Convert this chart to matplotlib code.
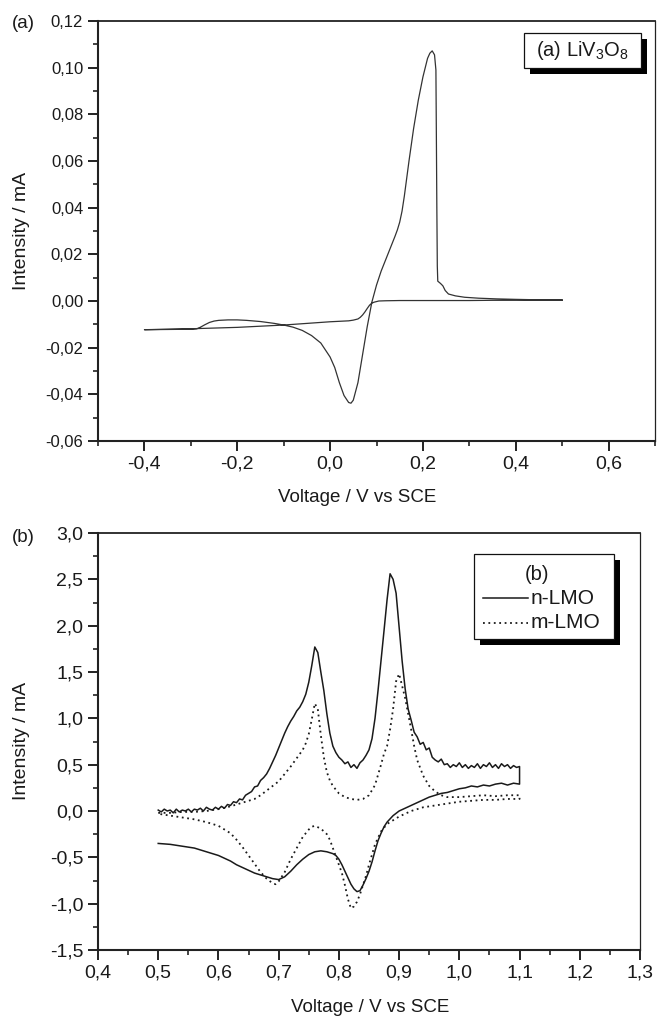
import matplotlib
matplotlib.use("Agg")
import matplotlib.pyplot as plt
import numpy as np
from matplotlib.patches import Rectangle
from matplotlib.lines import Line2D
from matplotlib.ticker import MultipleLocator, FuncFormatter

plt.rcParams['font.family'] = ['Liberation Sans', 'DejaVu Sans']
plt.rcParams['mathtext.fontset'] = 'custom'
plt.rcParams['mathtext.rm'] = 'Liberation Sans'
plt.rcParams['mathtext.it'] = 'Liberation Sans:italic'

# ---------------- Panel (a): LiV3O8 ----------------
a_x = [0.50, 0.45, 0.40, 0.35, 0.30, 0.25, 0.20, 0.15, 0.12, 0.105, 0.095, 0.09, 0.085,
       0.08, 0.075, 0.07, 0.065, 0.06, 0.05, 0.04, 0.02, 0.00, -0.05, -0.10, -0.15,
       -0.20, -0.25, -0.30, -0.35, -0.40,
       -0.35, -0.30, -0.287, -0.28, -0.27, -0.26, -0.25, -0.24, -0.22, -0.20, -0.18,
       -0.15, -0.12, -0.10, -0.08, -0.06, -0.04, -0.02, 0.00, 0.01, 0.02, 0.03, 0.04,
       0.045, 0.05, 0.06, 0.07, 0.08, 0.09, 0.10, 0.11, 0.12, 0.13, 0.14, 0.145, 0.15,
       0.155, 0.16, 0.17, 0.18, 0.19, 0.20, 0.21, 0.215, 0.22, 0.225, 0.228, 0.229, 0.230,
       0.231, 0.232, 0.238, 0.243, 0.248, 0.255, 0.27, 0.29, 0.32, 0.36, 0.40, 0.45, 0.50]
a_y = [0.0004, 0.0004, 0.0003, 0.0003, 0.0002, 0.0002, 0.0002, 0.0002, 0.0001, 0.0000,
       -0.0005, -0.0009, -0.0018, -0.0032, -0.0047, -0.0060, -0.0070, -0.0077, -0.0082,
       -0.0085, -0.0087, -0.0089, -0.0096, -0.0103, -0.0108, -0.0113, -0.0116, -0.0119,
       -0.0121, -0.0123,
       -0.0122, -0.0121, -0.0119, -0.0113, -0.0102, -0.0092, -0.0086, -0.0083, -0.0081,
       -0.0081, -0.0083, -0.0088, -0.0096, -0.0103, -0.0112, -0.0126, -0.0148, -0.0180,
       -0.0240, -0.0285, -0.0350, -0.0405, -0.0435, -0.0438, -0.0425, -0.0350, -0.0230,
       -0.0110, -0.0005, 0.0068, 0.0128, 0.0178, 0.0228, 0.0278, 0.0305, 0.0338, 0.0385,
       0.0450, 0.0600, 0.0740, 0.0860, 0.0960, 0.1040, 0.1062, 0.1072, 0.1055, 0.0990,
       0.0700, 0.0400, 0.0150, 0.0085, 0.0075, 0.0065, 0.0045, 0.0030, 0.0022, 0.0016,
       0.0012, 0.0009, 0.0007, 0.0005, 0.0004]

# ---------------- Panel (b): n-LMO / m-LMO ----------------
n_x = [0.500, 0.505, 0.510, 0.515, 0.520, 0.525, 0.530, 0.535, 0.540, 0.545, 0.550, 0.555,
       0.560, 0.565, 0.570, 0.575, 0.580, 0.585, 0.590, 0.595, 0.600, 0.605, 0.610, 0.615,
       0.620, 0.625, 0.630, 0.635, 0.640, 0.645, 0.650, 0.655, 0.660, 0.665, 0.670, 0.675,
       0.680, 0.685, 0.690, 0.695, 0.700, 0.705, 0.710, 0.715, 0.720, 0.725, 0.730, 0.735,
       0.740, 0.745, 0.750, 0.755, 0.760, 0.765, 0.770, 0.775, 0.780, 0.785, 0.790, 0.795,
       0.800, 0.805, 0.810, 0.815, 0.820, 0.825, 0.830, 0.835, 0.840, 0.845, 0.850, 0.855,
       0.860, 0.865, 0.870, 0.875, 0.880, 0.885, 0.890, 0.895, 0.900, 0.905, 0.910, 0.915,
       0.920, 0.925, 0.930, 0.935, 0.940, 0.945, 0.950, 0.955, 0.960, 0.965, 0.970, 0.975,
       0.980, 0.985, 0.990, 0.995, 1.000, 1.005, 1.010, 1.015, 1.020, 1.025, 1.030, 1.035,
       1.040, 1.045, 1.050, 1.055, 1.060, 1.065, 1.070, 1.075, 1.080, 1.085, 1.090, 1.095,
       1.100,
       1.100, 1.090, 1.080, 1.070, 1.060, 1.050, 1.040, 1.030, 1.020, 1.010, 1.000, 0.990,
       0.980, 0.970, 0.960, 0.950, 0.940, 0.930, 0.920, 0.910, 0.900, 0.890, 0.880, 0.875,
       0.870, 0.865, 0.860, 0.855, 0.850, 0.845, 0.840, 0.835, 0.830, 0.825, 0.820, 0.815,
       0.810, 0.805, 0.800, 0.795, 0.790, 0.780, 0.770, 0.760, 0.750, 0.740, 0.730, 0.720,
       0.710, 0.700, 0.690, 0.680, 0.670, 0.660, 0.650, 0.640, 0.630, 0.620, 0.610, 0.600,
       0.580, 0.560, 0.540, 0.520, 0.500]
n_y = [0.01, -0.01, 0.02, 0.00, 0.01, -0.02, 0.02, -0.01, 0.01, 0.00, 0.02, -0.01,
       0.02, 0.01, 0.03, 0.00, 0.04, 0.02, 0.01, 0.04, 0.02, 0.05, 0.03, 0.07,
       0.06, 0.10, 0.09, 0.13, 0.12, 0.17, 0.19, 0.21, 0.26, 0.27, 0.33, 0.36,
       0.40, 0.46, 0.53, 0.60, 0.68, 0.76, 0.84, 0.91, 0.97, 1.02, 1.08, 1.12,
       1.18, 1.26, 1.39, 1.57, 1.77, 1.71, 1.50, 1.30, 1.05, 0.84, 0.70, 0.63,
       0.58, 0.55, 0.51, 0.53, 0.47, 0.50, 0.46, 0.52, 0.55, 0.60, 0.66, 0.78,
       1.00, 1.30, 1.62, 1.95, 2.28, 2.56, 2.50, 2.35, 1.98, 1.62, 1.32, 1.10,
       0.98, 0.85, 0.80, 0.72, 0.74, 0.66, 0.68, 0.58, 0.55, 0.53, 0.56, 0.50,
       0.51, 0.47, 0.50, 0.48, 0.52, 0.47, 0.50, 0.46, 0.49, 0.47, 0.51, 0.46,
       0.50, 0.48, 0.52, 0.47, 0.50, 0.46, 0.51, 0.48, 0.50, 0.46, 0.49, 0.47,
       0.48,
       0.29, 0.30, 0.28, 0.30, 0.29, 0.27, 0.28, 0.26, 0.27, 0.25, 0.24, 0.22,
       0.20, 0.19, 0.17, 0.15, 0.12, 0.09, 0.06, 0.03, 0.00, -0.05, -0.12, -0.17,
       -0.24, -0.32, -0.43, -0.55, -0.65, -0.73, -0.80, -0.86, -0.87, -0.84, -0.79, -0.72,
       -0.65, -0.58, -0.52, -0.48, -0.46, -0.44, -0.43, -0.44, -0.47, -0.52, -0.58, -0.65,
       -0.71, -0.74, -0.73, -0.71, -0.69, -0.67, -0.64, -0.61, -0.58, -0.54, -0.51, -0.48,
       -0.44, -0.40, -0.38, -0.36, -0.35]

m_x = [0.50, 0.52, 0.54, 0.56, 0.58, 0.60, 0.62, 0.64, 0.66, 0.67, 0.68, 0.69, 0.70,
       0.71, 0.72, 0.73, 0.74, 0.745, 0.75, 0.755, 0.76, 0.765, 0.77, 0.775, 0.78, 0.785,
       0.79, 0.80, 0.81, 0.82, 0.83, 0.84, 0.85, 0.86, 0.87, 0.875, 0.88, 0.885, 0.89,
       0.895, 0.90, 0.905, 0.91, 0.915, 0.92, 0.925, 0.93, 0.94, 0.95, 0.96, 0.97, 0.98,
       1.00, 1.02, 1.04, 1.06, 1.08, 1.10,
       1.10, 1.08, 1.06, 1.04, 1.02, 1.00, 0.98, 0.96, 0.94, 0.92, 0.90, 0.89, 0.88,
       0.87, 0.86, 0.855, 0.85, 0.845, 0.84, 0.835, 0.83, 0.825, 0.82, 0.815, 0.81, 0.805,
       0.80, 0.795, 0.79, 0.785, 0.78, 0.77, 0.76, 0.755, 0.75, 0.74, 0.73, 0.72, 0.71,
       0.70, 0.695, 0.69, 0.68, 0.67, 0.66, 0.65, 0.64, 0.63, 0.62, 0.60, 0.58, 0.56,
       0.54, 0.52, 0.50]
m_y = [-0.02, -0.02, -0.01, -0.01, 0.00, 0.02, 0.05, 0.09, 0.13, 0.17, 0.22, 0.27, 0.32,
       0.40, 0.48, 0.57, 0.66, 0.73, 0.83, 0.99, 1.16, 1.10, 0.82, 0.58, 0.42, 0.33,
       0.27, 0.19, 0.15, 0.13, 0.12, 0.13, 0.17, 0.28, 0.50, 0.62, 0.70, 0.88, 1.10,
       1.40, 1.48, 1.35, 1.22, 1.05, 0.88, 0.70, 0.55, 0.38, 0.27, 0.21, 0.17, 0.15,
       0.15, 0.16, 0.17, 0.16, 0.17, 0.17,
       0.13, 0.13, 0.12, 0.12, 0.11, 0.10, 0.08, 0.06, 0.04, 0.00, -0.06, -0.10, -0.14,
       -0.22, -0.36, -0.47, -0.58, -0.70, -0.80, -0.90, -0.98, -1.03, -1.05, -0.95, -0.80,
       -0.67, -0.58, -0.49, -0.40, -0.31, -0.25, -0.19, -0.16, -0.17, -0.20, -0.28, -0.40,
       -0.52, -0.66, -0.76, -0.79, -0.78, -0.73, -0.66, -0.57, -0.48, -0.39, -0.31, -0.24,
       -0.16, -0.12, -0.09, -0.07, -0.05, -0.03]

W, H = 657, 1017


def P(x, y):
    return (x / W, 1 - y / H)


def comma(dec):
    def f(v, pos):
        s = f"{v:.{dec}f}"
        if float(s) == 0:
            s = f"{0:.{dec}f}"
        return s.replace('.', ',')
    return FuncFormatter(f)


def style_axes(ax, ysize):
    for s in ['left', 'bottom']:
        ax.spines[s].set_linewidth(1.5)
    ax.spines['top'].set_linewidth(1.3)
    ax.spines['right'].set_linewidth(0.9)
    for s in ax.spines.values():
        s.set_color('#222222')
    ax.tick_params(which='major', direction='out', length=7.2, width=1.4,
                   top=False, right=False, pad=3.5, colors='#222222')
    ax.tick_params(which='minor', direction='out', length=3.8, width=1.2,
                   top=False, right=False, colors='#222222')
    ax.tick_params(axis='x', labelsize=14, labelcolor='#1a1a1a')
    ax.tick_params(axis='y', labelsize=ysize, labelcolor='#1a1a1a')


fig = plt.figure(figsize=(W / 100, H / 100), dpi=100)

# ---- top panel
ax1 = fig.add_axes([98 / W, 1 - 441 / H, 557 / W, 420 / H])
ax1.plot(a_x, a_y, color='#333333', lw=0.9)
ax1.set_xlim(-0.5, 0.7)
ax1.set_ylim(-0.06, 0.12)
ax1.xaxis.set_major_locator(MultipleLocator(0.2))
ax1.xaxis.set_minor_locator(MultipleLocator(0.1))
ax1.yaxis.set_major_locator(MultipleLocator(0.02))
ax1.yaxis.set_minor_locator(MultipleLocator(0.01))
ax1.xaxis.set_major_formatter(comma(1))
ax1.yaxis.set_major_formatter(comma(2))
style_axes(ax1, 12)

# ---- bottom panel
ax2 = fig.add_axes([98 / W, 1 - 950 / H, 542 / W, 417 / H])
ax2.plot(n_x, n_y, color='#1a1a1a', lw=1.1)
ax2.plot(m_x, m_y, color='#1a1a1a', lw=1.3, linestyle=(0, (1, 2)))
ax2.set_xlim(0.4, 1.3)
ax2.set_ylim(-1.5, 3.0)
ax2.xaxis.set_major_locator(MultipleLocator(0.1))
ax2.xaxis.set_minor_locator(MultipleLocator(0.05))
ax2.yaxis.set_major_locator(MultipleLocator(0.5))
ax2.yaxis.set_minor_locator(MultipleLocator(0.25))
ax2.xaxis.set_major_formatter(comma(1))
ax2.yaxis.set_major_formatter(comma(1))
style_axes(ax2, 14)

# ---- axis labels and panel letters
fig.text(*P(357, 497), 'Voltage / V vs SCE', ha='center', va='center', fontsize=13.5, color='#1a1a1a')
fig.text(*P(370, 1007), 'Voltage / V vs SCE', ha='center', va='center', fontsize=13.5, color='#1a1a1a')
fig.text(*P(22, 231), 'Intensity / mA', ha='center', va='center', rotation=90, fontsize=14, color='#1a1a1a')
fig.text(*P(22, 741), 'Intensity / mA', ha='center', va='center', rotation=90, fontsize=14, color='#1a1a1a')
fig.text(*P(23.5, 23), '(a)', ha='center', va='center', fontsize=13.5, color='#1a1a1a')
fig.text(*P(23.5, 538), '(b)', ha='center', va='center', fontsize=13.5, color='#1a1a1a')


def box(x0, y0, x1, y1, shadow=6):
    sx, sy = P(x0 + shadow, y1 + shadow)
    fig.add_artist(Rectangle((sx, sy), (x1 - x0) / W, (y1 - y0) / H,
                             transform=fig.transFigure, facecolor='black',
                             edgecolor='black', lw=0, zorder=5))
    bx, by = P(x0, y1)
    fig.add_artist(Rectangle((bx, by), (x1 - x0) / W, (y1 - y0) / H,
                             transform=fig.transFigure, facecolor='white',
                             edgecolor='#111111', lw=0.9, zorder=6))


# legend (a)
box(524, 33, 641, 68)
fig.text(*P(582.5, 51), '(a) LiV$_3$O$_8$', ha='center', va='center', fontsize=14.5,
         color='#1a1a1a', zorder=7)

# legend (b)
box(474, 554, 614, 639)
fig.text(*P(537, 575), '(b)', ha='center', va='center', fontsize=14.5, color='#1a1a1a', zorder=7)
fig.add_artist(Line2D([483 / W, 528 / W], [1 - 598 / H, 1 - 598 / H], transform=fig.transFigure,
                      color='#1a1a1a', lw=1.1, zorder=7))
fig.add_artist(Line2D([483 / W, 528 / W], [1 - 623 / H, 1 - 623 / H], transform=fig.transFigure,
                      color='#1a1a1a', lw=1.3, linestyle=(0, (1, 2)), zorder=7))
fig.text(*P(531, 598), 'n-LMO', ha='left', va='center', fontsize=15, color='#1a1a1a', zorder=7)
fig.text(*P(531, 623), 'm-LMO', ha='left', va='center', fontsize=15, color='#1a1a1a', zorder=7)

fig.savefig('out.png', dpi=100)
